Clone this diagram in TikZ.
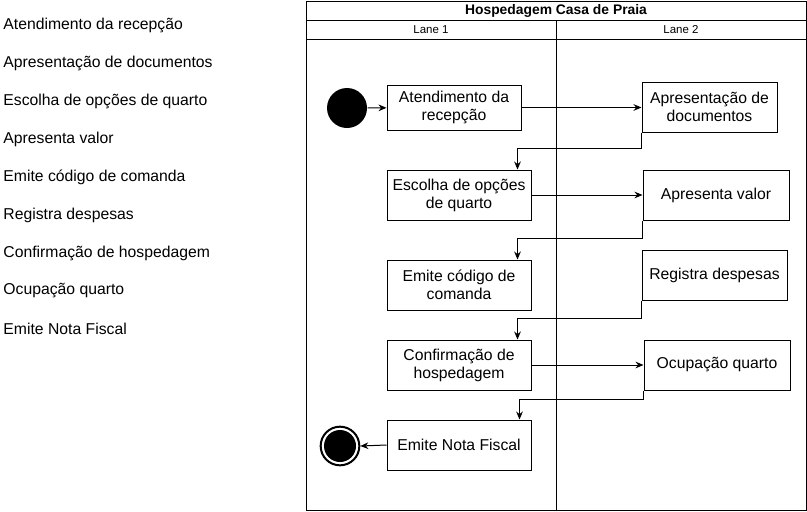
\documentclass[tikz,border=0pt]{standalone}
\usepackage{fontspec}
\setmainfont{Liberation Sans}
\usetikzlibrary{arrows.meta, positioning, calc}

\begin{document}
\begin{tikzpicture}[x=0.75pt, y=-0.75pt, >={Stealth[length=6pt,width=5pt]},
    font=\fontsize{11.8}{13.5}\selectfont, line width=0.75pt]
  \tikzset{
    act/.style={draw=black, fill=white, align=center, inner sep=2pt,
      minimum width=108pt, minimum height=37.5pt},
    flow/.style={->, draw=black},
    lanehead/.style={font=\fontsize{8.6}{10}\selectfont},
  }
  \useasboundingbox (0,0) rectangle (807,511);

  % left list
  \foreach \txt [count=\i] in {Atendimento da recepção,
      Apresentação de documentos, Escolha de opções de quarto,
      Apresenta valor, Emite código de comanda, Registra despesas,
      Confirmação de hospedagem, Ocupação quarto, Emite Nota Fiscal}
    \node[anchor=west, inner sep=0pt] (item\i) at (3,{25+38*(\i-1)}) {\txt};

  % pool and lanes
  \draw (306,1) rectangle (806,510);
  \draw (306,20) -- (806,20);
  \draw (306,39) -- (806,39);
  \draw (556,20) -- (556,510);
  \node[font=\fontsize{10.4}{12}\selectfont\bfseries] (pool) at (556,11) {Hospedagem Casa de Praia};
  \node[lanehead] (lane1) at (431,30) {Lane 1};
  \node[lanehead] (lane2) at (681,30) {Lane 2};

  % lane 1
  \node[act, minimum width=100.5pt, minimum height=33.75pt] (AR) at (454,107.5)
    {Atendimento da\\recepção};
  \node[act] (EO) at (459,195) {Escolha de opções\\de quarto};
  \node[act] (EC) at (459,285) {Emite código de\\comanda};
  \node[act] (CH) at (459,365) {Confirmação de\\hospedagem};
  \node[act] (NF) at (459,445) {Emite Nota Fiscal};

  % lane 2
  \node[act, minimum width=101.25pt] (AD) at (709.5,107) {Apresentação de\\documentos};
  \node[act, minimum width=109.5pt] (AV) at (716,195) {Apresenta valor};
  \node[act, minimum width=108.75pt] (RD) at (714.5,275) {Registra despesas};
  \node[act, minimum width=109.5pt] (OQ) at (717,365) {Ocupação quarto};

  % start / end
  \node[circle, fill=black, minimum size=30pt, inner sep=0pt] (start) at (347,108) {};
  \node[circle, draw=black, line width=1.5pt, fill=white, minimum size=29pt,
    inner sep=0pt] (stop) at (340,446) {};
  \node[circle, fill=black, minimum size=24pt, inner sep=0pt] (stopin) at (stop) {};

  % flows
  \draw[flow] (start) -- (AR);
  \draw[flow] (AR.east) -- (AR.east -| AD.west);
  \draw[flow] (AD.south west) -- ++(0,16) -| ($(EO.north east)+(-14,0)$);
  \draw[flow] (EO.east) -- (AV.west);
  \draw[flow] (AV.south west) -- ++(0,18) -| ($(EC.north east)+(-14,0)$);
  \draw[flow] (RD.south west) -- ++(0,18) -| ($(CH.north east)+(-14,0)$);
  \draw[flow] (CH.east) -- (CH.east -| OQ.west);
  \draw[flow] (OQ.south west) -- ++(0,9) -| ($(NF.north east)+(-12,0)$);
  \draw[flow] (NF.west) -- (stop.east);
\end{tikzpicture}
\end{document}
